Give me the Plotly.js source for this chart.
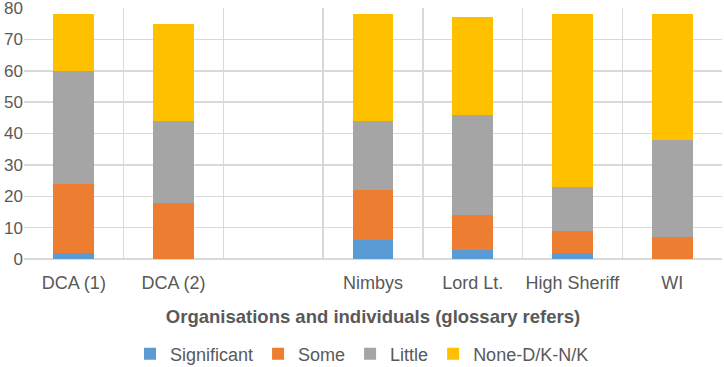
<!DOCTYPE html>
<html>
<head>
<meta charset="utf-8">
<script src="https://cdn.plot.ly/plotly-3.0.1.min.js"></script>
<style>html,body{margin:0;padding:0;background:#fff;}#chart{width:724px;height:367px;}</style>
</head>
<body>
<div id="chart"></div>
<script>
const categories = ["DCA (1)", "DCA (2)", " ", "Nimbys", "Lord Lt.", "High Sheriff", "WI"];
const significant = [2, 0, 0, 6, 3, 2, 0];
const some = [22, 18, 0, 16, 11, 7, 7];
const little = [36, 26, 0, 22, 32, 14, 31];
const noneDK = [18, 31, 0, 34, 31, 55, 40];
const seriesNames = ["Significant", "Some", "Little", "None-D/K-N/K"];
const colors = ["#5b9bd5", "#ed7d31", "#a5a5a5", "#ffc000"];

const seriesData = [significant, some, little, noneDK];
const traces = seriesData.map((vals, i) => ({
  type: "bar",
  name: seriesNames[i],
  x: categories,
  y: vals,
  marker: {color: colors[i]},
  hoverinfo: "skip"
}));

const layout = {
  width: 724, height: 367,
  barmode: "stack",
  bargap: 0.59,
  margin: {l: 24, r: 2, t: 8, b: 108},
  paper_bgcolor: "#fff", plot_bgcolor: "#fff",
  font: {family: "Liberation Sans, Arial, sans-serif", size: 18, color: "#595959"},
  showlegend: true,
  legend: {orientation: "h", x: 0.5, xanchor: "center", xref: "container",
           y: 0.035, yanchor: "middle", yref: "container",
           font: {size: 18, color: "#595959"}, itemwidth: 30, traceorder: "normal"},
  xaxis: {
    type: "category",
    tickson: "boundaries",
    tickangle: 0,
    ticklabelstandoff: 11,
    showgrid: true, gridcolor: "#d9d9d9", gridwidth: 1.5,
    ticks: "", showline: false, zeroline: false,
    tickfont: {size: 18, color: "#595959"},
    title: {text: "<b>Organisations and individuals (glossary refers)</b>", font: {size: 18.5, color: "#595959"}, standoff: 18},
    automargin: false
  },
  yaxis: {
    range: [0, 80], dtick: 10,
    ticklabeloverflow: "allow",
    showgrid: true, gridcolor: "#d9d9d9", gridwidth: 1.5,
    zeroline: true, zerolinecolor: "#d9d9d9", zerolinewidth: 1.5,
    ticks: "", showline: false,
    tickfont: {size: 17, color: "#595959"},
    automargin: false
  }
};
Plotly.newPlot("chart", traces, layout, {displayModeBar: false, staticPlot: true});
</script>
</body>
</html>
